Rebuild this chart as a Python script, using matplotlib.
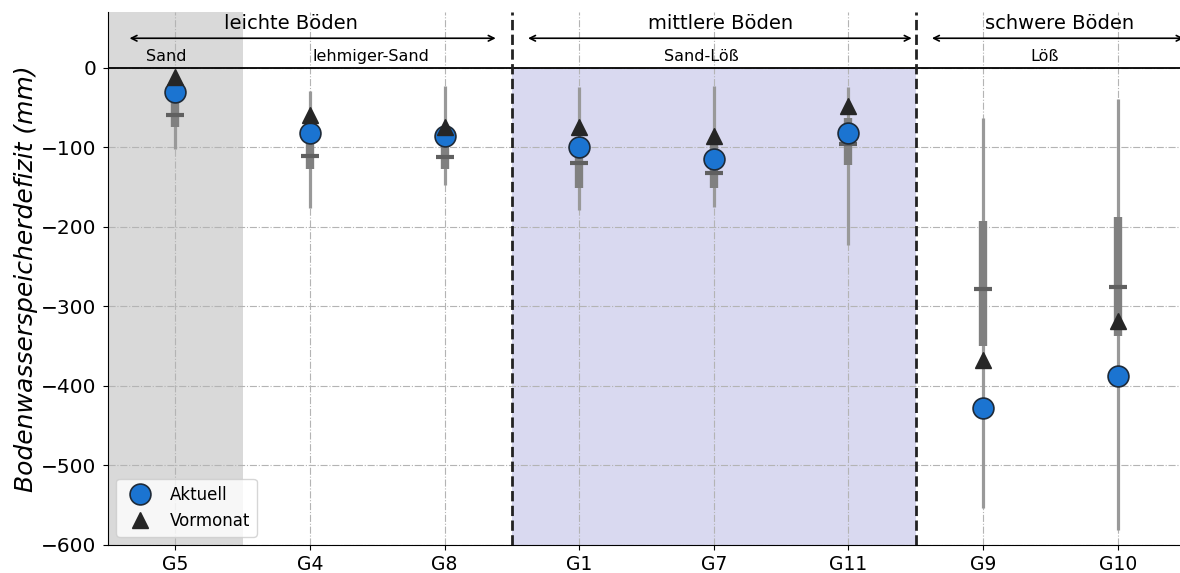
import matplotlib
matplotlib.use("Agg")
import matplotlib.pyplot as plt

# stations in plot order
stations = ["G5", "G4", "G8", "G1", "G7", "G11", "G9", "G10"]

aktuell = [-31, -82, -86, -100, -115, -82, -428, -387]
vormonat = [-12, -59, -75, -75, -86, -48, -367, -319]

# distribution of previous years
median = [-59, -111, -112, -120, -133, -96, -278, -276]
q_low = [-74, -127, -127, -151, -151, -122, -350, -337]
q_high = [-44, -92, -95, -92, -95, -63, -193, -188]
w_low = [-102, -177, -148, -179, -175, -223, -553, -581]
w_high = [-15, -29, -23, -24, -23, -24, -63, -39]

# soil groups and sub groups
groups = ["leichte Böden", "mittlere Böden", "schwere Böden"]
subgroups = ["Sand", "lehmiger-Sand", "Sand-Löß", "Löß"]

x = list(range(len(stations)))

fig = plt.figure(figsize=(11.8, 5.73), dpi=100)
ax = fig.add_axes([108 / 1180, 28 / 573, 1077 / 1180, 533 / 573])

ax.set_xlim(-0.5, 7.5)
ax.set_ylim(-600, 70)

# background shading
ax.axvspan(-0.5, 0.5, color="#d9d9d9", zorder=0, lw=0)
ax.fill_between([2.5, 5.5], -600, 0, color="#d9d9f0", zorder=0, lw=0)

ax.grid(True, ls="-.", color="#b4b4b4", lw=0.8)
ax.set_axisbelow(True)

ax.axhline(0, color="black", lw=1.3, zorder=2)
for b in [2.5, 5.5]:
    ax.axvline(b, color="#222222", ls="--", lw=2, zorder=2)

# ranges
ax.vlines(x, w_low, w_high, color="#999999", lw=2.3, zorder=3)
ax.vlines(x, q_low, q_high, color="#808080", lw=6, zorder=3)
ax.plot(x, median, ls="none", marker="_", ms=13, mew=3, color="#606060", zorder=4)

ax.plot(x, aktuell, ls="none", marker="o", ms=15, mfc="#1b74d1", mec="#1e2a38",
        mew=1.2, label="Aktuell", zorder=5)
ax.plot(x, vormonat, ls="none", marker="^", ms=11, color="#262626",
        label="Vormonat", zorder=6)

# group annotations
arrow_ends = [(-0.34, 2.38), (2.62, 5.47), (5.62, 7.49)]
group_xc = [0.86, 4.05, 6.57]
for name, (x0, x1), xc in zip(groups, arrow_ends, group_xc):
    ax.annotate("", xy=(x1, 37), xytext=(x0, 37),
                arrowprops=dict(arrowstyle="<->", color="black", lw=1.2,
                                shrinkA=0, shrinkB=0))
    ax.text(xc, 56, name, ha="center", va="center", fontsize=14)

sub_xc = [-0.07, 1.45, 3.91, 6.46]
for name, xc in zip(subgroups, sub_xc):
    ax.text(xc, 14, name, ha="center", va="center", fontsize=11.5)

ax.set_xticks(x)
ax.set_xticklabels(stations)
ax.set_yticks(range(-600, 1, 100))
ax.tick_params(axis="x", labelsize=13.5)
ax.tick_params(axis="y", labelsize=14.5, pad=5)

ax.spines["top"].set_visible(False)
ax.spines["right"].set_visible(False)

ax.set_ylabel("Bodenwasserspeicherdefizit (mm)", fontsize=18, style="italic",
              labelpad=2)

ax.legend(loc="lower left", fontsize=12)

fig.savefig("out.png", dpi=100)
